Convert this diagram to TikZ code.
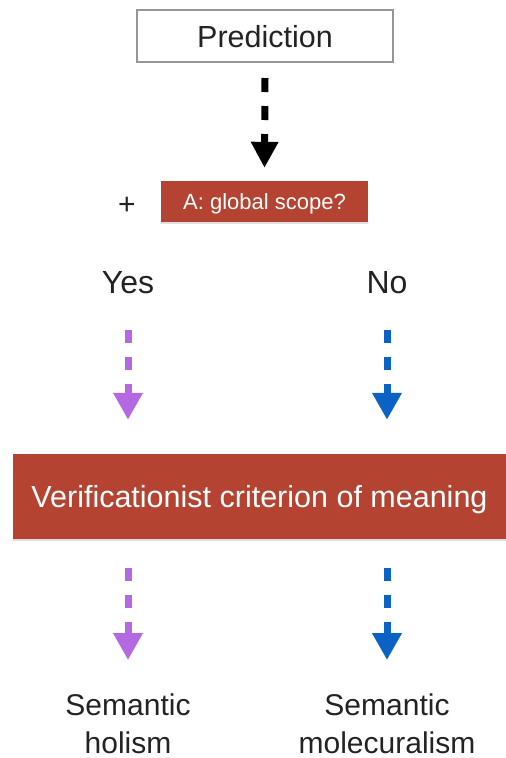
\documentclass[tikz,border=0pt]{standalone}
\usepackage{fontspec}
\setmainfont{Liberation Sans}
\usetikzlibrary{arrows.meta,calc,shadows}
\definecolor{boxred}{RGB}{180,67,50}
\definecolor{txtgray}{RGB}{35,35,35}
\definecolor{bordgray}{RGB}{150,150,150}
\definecolor{purp}{RGB}{180,104,226}
\definecolor{blu}{RGB}{10,98,196}
\tikzset{
  redbox/.style={fill=boxred, text=white, inner sep=0pt, text depth=0pt,
    drop shadow={shadow xshift=0pt, shadow yshift=-2pt, opacity=0.25}},
  plain/.style={text=txtgray, inner sep=0pt},
  darrow/.style={line width=7pt, dash pattern=on 13pt off 14pt,
    -{Triangle[width=28pt,length=27pt]}},
}
\begin{document}
\begin{tikzpicture}[x=1pt,y=1pt]
\useasboundingbox (0,0) rectangle (506,-758);
\node[draw=bordgray, line width=2pt, fill=white, minimum width=256pt, minimum height=52pt,
  inner sep=0pt, text depth=0pt, text=txtgray, font=\fontsize{30.5}{36}\selectfont]
  (pred) at (265,-36) {Prediction};
\node[redbox, minimum width=207pt, minimum height=41pt, font=\fontsize{22}{26}\selectfont]
  (ascope) at (264.5,-201.5) {A: global scope?};
\node[plain, font=\fontsize{30}{36}\selectfont] (plus) at (127,-205.5) {+};
\node[plain, anchor=base, font=\fontsize{32}{38}\selectfont] (yes) at (128,-293) {Yes};
\node[plain, anchor=base, font=\fontsize{32}{38}\selectfont] (no) at (387,-293) {No};
\node[redbox, minimum width=493pt, minimum height=85pt, font=\fontsize{30.5}{36}\selectfont]
  (verif) at (259.5,-496.5) {Verificationist criterion of meaning};
\node[plain, anchor=base, align=center, font=\fontsize{30}{38}\selectfont]
  (hol) at (128,-753) {Semantic\\holism};
\node[plain, anchor=base, align=center, font=\fontsize{30}{38}\selectfont]
  (mol) at (387,-753) {Semantic\\molecuralism};
\draw[darrow, black, dash pattern=on 14pt off 14pt, -{Triangle[width=26pt,length=26pt]}]
  ($(pred.south)+(0,-15)$) -- ($(ascope.north)+(0,13)$);
\draw[darrow, purp] ($(yes.base)+(0,-37)$) -- ($(verif.north -| yes.base)+(0,34)$);
\draw[darrow, blu] ($(no.base)+(0,-37)$) -- ($(verif.north -| no.base)+(0,34)$);
\draw[darrow, purp] ($(verif.south -| hol.base)+(0,-29)$) -- ($(hol.north)+(0,33)$);
\draw[darrow, blu] ($(verif.south -| mol.base)+(0,-29)$) -- ($(mol.north)+(0,33)$);
\end{tikzpicture}
\end{document}
